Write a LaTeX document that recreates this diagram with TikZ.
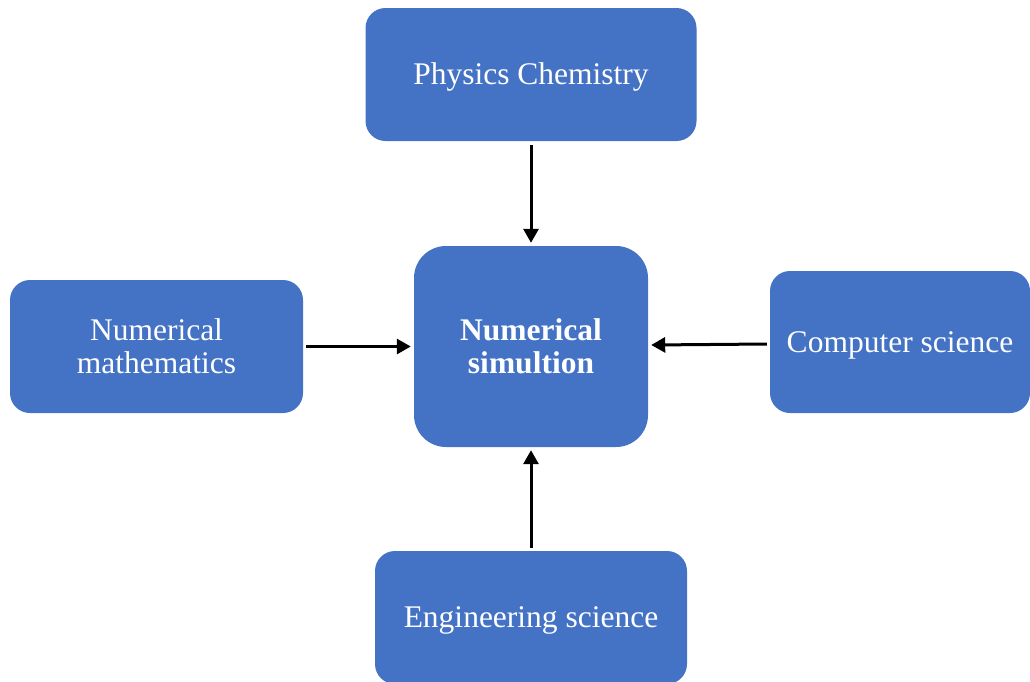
\documentclass[tikz,border=0pt]{standalone}
\usepackage{fontspec}
\setmainfont{Liberation Serif}
\usetikzlibrary{arrows.meta}
\definecolor{boxblue}{HTML}{4472C4}
\tikzset{
  box/.style={fill=boxblue, draw=none, rounded corners=20pt, inner sep=0pt, align=center,
    text=white, font=\fontsize{31.5}{33}\selectfont},
  oneline/.style={text height=27.5pt, text depth=7pt},
  arr/.style={line width=3pt, -{Triangle[length=14pt,width=15pt]}}
}
\begin{document}
\begin{tikzpicture}[x=1pt,y=-1pt]
\useasboundingbox (0,0) rectangle (1030,681);
\clip (0,0) rectangle (1030,681);
\node[box, oneline, minimum width=331pt, minimum height=133pt] (top) at (531,74.5) {Physics Chemistry};
\node[box, minimum width=234pt, minimum height=201pt, rounded corners=32pt, font=\fontsize{31.5}{33}\selectfont\bfseries] (sim) at (531,346.5) {Numerical\\simultion};
\node[box, minimum width=293pt, minimum height=133pt] (left) at (156.5,346.5) {Numerical\\mathematics};
\node[box, oneline, minimum width=260pt, minimum height=142pt] (right) at (900,342) {Computer science};
\node[box, oneline, minimum width=312pt, minimum height=133pt] (bottom) at (531,617.5) {Engineering science};
\draw[arr] ([yshift=-4pt]top.south) -- ([yshift=3pt]sim.north);
\draw[arr] ([xshift=3pt]left.east) -- ([xshift=-3pt]sim.west);
\draw[arr] ([xshift=-3pt,yshift=-2pt]right.west) -- ([xshift=3pt,yshift=1.5pt]sim.east);
\draw[arr] ([yshift=3pt]bottom.north) -- ([yshift=-3pt]sim.south);
\end{tikzpicture}
\end{document}
